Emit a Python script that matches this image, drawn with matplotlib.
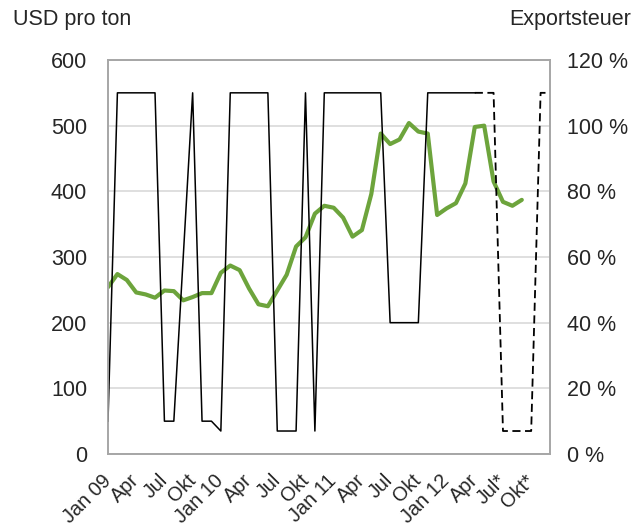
import numpy as np
import matplotlib.pyplot as plt
from matplotlib.transforms import ScaledTranslation

plt.rcParams['font.family'] = ['Liberation Sans', 'DejaVu Sans']

# monthly index Jan 2009 .. Dec 2012
months = np.arange(48)
tick_labels = ["Jan 09", "Apr", "Jul", "Okt", "Jan 10", "Apr", "Jul", "Okt",
               "Jan 11", "Apr", "Jul", "Okt", "Jan 12", "Apr", "Jul*", "Okt*"]

# price, USD per ton (Jan 09 .. Sep 12)
price = [254, 274, 265, 246, 243, 238, 249, 248, 234, 239, 245, 245,
         276, 287, 280, 252, 228, 225, 249, 273, 316, 330, 366, 378,
         375, 360, 331, 341, 396, 488, 472, 479, 504, 491, 488, 364,
         374, 382, 412, 498, 500, 415, 384, 378, 387]

# export tax in percent
tax = [10, 110, 110, 110, 110, 110, 10, 10, 60, 110, 10, 10,
       7, 110, 110, 110, 110, 110, 7, 7, 7, 110, 7, 110,
       110, 110, 110, 110, 110, 110, 40, 40, 40, 40, 110, 110,
       110, 110, 110, 110]
tax_forecast = [110, 110, 110, 7, 7, 7, 7, 110, 110]

fig = plt.figure(figsize=(6.42, 5.31), dpi=100)
ax = fig.add_axes([108 / 642, 77 / 531, 442 / 642, 394 / 531])
ax2 = ax.twinx()

grey = '#a6a6a6'
fs = 15.5
ax.set_ylim(0, 600)
ax.set_yticks(range(0, 601, 100))
ax.grid(axis='y', color='#d9d9d9', lw=1.2)
ax.set_axisbelow(True)
ax.set_xlim(0, 47)
ax.set_xticks(months[::3])
ax.set_xticklabels(tick_labels, rotation=45, ha='right', va='center',
                   rotation_mode='anchor', fontsize=14.3)
# nudge rotated month labels a little to the right
shift = ScaledTranslation(5 / 100, 0, fig.dpi_scale_trans)
for lab in ax.get_xticklabels():
    lab.set_transform(lab.get_transform() + shift)

ax.plot(months[:len(price)], price, color='#6da43c', lw=3.0,
        solid_joinstyle='round', solid_capstyle='round')

ax2.set_ylim(0, 120)
ax2.set_yticks(range(0, 121, 20))
ax2.set_yticklabels([f"{v} %" for v in range(0, 121, 20)])
ax2.plot(months[:len(tax)], tax, color='black', lw=1.1)
ax2.plot(months[len(tax) - 1:], tax_forecast, color='black', lw=1.3,
         ls=(0, (4.5, 2.5)))

for a in (ax, ax2):
    for s in a.spines.values():
        s.set_color(grey)
        s.set_linewidth(1.2)
    a.tick_params(length=0, colors='#262626')
ax.tick_params(axis='y', pad=15, labelsize=fs)
ax.tick_params(axis='x', pad=17)
ax2.tick_params(axis='y', pad=12, labelsize=fs)

fig.text(13 / 642, 1 - 19 / 531, "USD pro ton", fontsize=fs, color='#262626',
         ha='left', va='center')
fig.text(631 / 642, 1 - 19 / 531, "Exportsteuer", fontsize=fs, color='#262626',
         ha='right', va='center')

fig.savefig('out.png', dpi=100)
